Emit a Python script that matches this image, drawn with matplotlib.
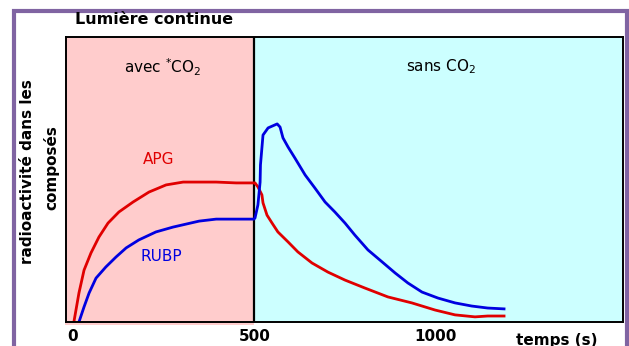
import matplotlib
matplotlib.use("Agg")
import matplotlib.pyplot as plt
from matplotlib.patches import Rectangle

# Time (s) and radioactivity (arbitrary units) of the two compounds
t_apg = [3, 17, 31, 50, 72, 97, 127, 166, 210, 257, 304, 395, 450, 499,
         502, 510, 521, 524, 535, 549, 565, 593, 620, 659, 703, 750, 805,
         868, 934, 998, 1053, 1108, 1143, 1188]
apg = [0, 10.2, 18.2, 24.2, 29.8, 34.7, 38.6, 42.1, 45.6, 48.1, 49.1, 49.1,
       48.8, 48.8, 48.8, 47.4, 44.6, 41.8, 37.5, 34.7, 31.6, 28.1, 24.6, 20.7,
       17.5, 14.7, 11.9, 8.8, 6.7, 4.2, 2.5, 1.8, 2.1, 2.1]

t_rubp = [17, 31, 45, 64, 91, 119, 147, 182, 229, 276, 348, 395, 499,
          502, 510, 516, 517, 521, 524, 538, 563, 571, 579, 593, 612, 640,
          667, 695, 722, 750, 777, 813, 852, 888, 923, 962, 1006, 1053, 1099,
          1143, 1188]
rubp = [0, 5.3, 10.2, 15.4, 19.3, 22.8, 26.0, 28.8, 31.6, 33.3, 35.4, 36.1,
        36.1, 36.5, 41.1, 49.1, 55.1, 61.1, 65.6, 68.1, 69.5, 68.4, 64.6, 61.4,
        57.5, 51.6, 47.0, 42.1, 38.6, 34.7, 30.5, 25.3, 21.1, 17.2, 13.7, 10.5,
        8.4, 6.7, 5.6, 4.9, 4.6]

co2_cut = 500
x_ticks = [0, 500, 1000]
x_tick_labels = ["0", "500", "1000"]

PINK = "#FFCCCC"
CYAN = "#CCFFFF"
RED = "#E00000"
BLUE = "#0000E0"
FRAME = "#8064A2"

fig = plt.figure(figsize=(6.29, 3.46), dpi=100)
W, H = 629, 346

# outer purple frame (open at the bottom)
fig.patches.append(Rectangle((14 / W, -0.1), 613 / W, 1.1 - 11 / H,
                             transform=fig.transFigure, fill=False,
                             edgecolor=FRAME, linewidth=3.0))

ax = fig.add_axes([66 / W, 24 / H, 557 / W, 285 / H])
ax.set_xlim(-18.7, 1515.7)
ax.set_ylim(0, 100)
ax.set_facecolor(CYAN)

# "avec CO2" phase background
ax.add_patch(Rectangle((-21.5, -0.9), co2_cut + 21.5, 100.9, facecolor=PINK,
                       edgecolor="none", clip_on=False, zorder=0.5))
ax.axvline(co2_cut, color="black", linewidth=1.6, zorder=1)

ax.plot(t_apg, apg, color=RED, linewidth=2.0, zorder=3)
ax.plot(t_rubp, rubp, color=BLUE, linewidth=2.0, zorder=3)

for s in ax.spines.values():
    s.set_linewidth(1.4)
    s.set_zorder(4)

ax.set_yticks([])
ax.set_xticks(x_ticks)
ax.set_xticklabels(x_tick_labels, fontweight="bold", fontsize=11)
ax.tick_params(axis="x", length=0, pad=5)

ax.text(248, 89.5, r"avec $^{*}\mathrm{CO}_2$", ha="center", va="center",
        fontsize=11)
ax.text(1014, 89.5, r"sans $\mathrm{CO}_2$", ha="center", va="center",
        fontsize=11)
ax.text(237, 57, "APG", color=RED, ha="center", va="center", fontsize=11)
ax.text(243, 23, "RUBP", color=BLUE, ha="center", va="center", fontsize=11)

fig.text(75 / W, 1 - 19 / H, "Lumière continue", ha="left", va="center",
         fontsize=11.5, fontweight="bold")
fig.text(557 / W, 1 - 340 / H, "temps (s)", ha="center", va="center",
         fontsize=11, fontweight="bold")
fig.text(28 / W, 1 - 172 / H, "radioactivité dans les", rotation=90,
         ha="center", va="center", fontsize=11, fontweight="bold")
fig.text(51 / W, 1 - 168 / H, "composés", rotation=90,
         ha="center", va="center", fontsize=11, fontweight="bold")

fig.savefig("out.png", dpi=100)
